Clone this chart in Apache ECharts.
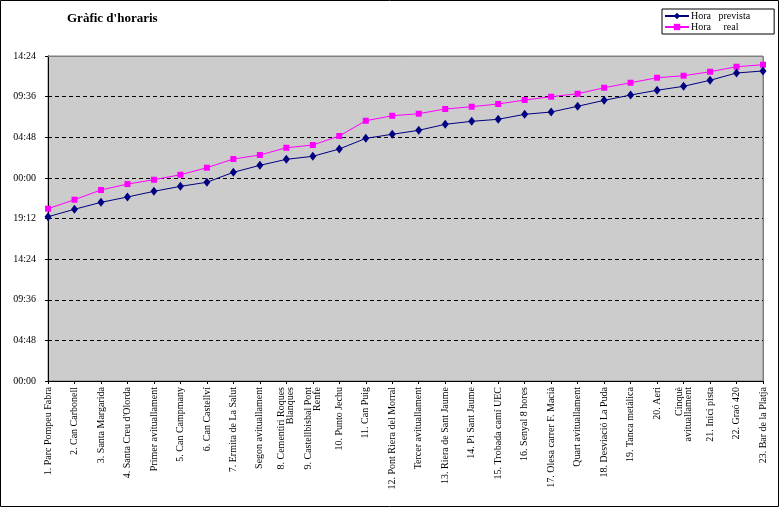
<!DOCTYPE html>
<html>
<head>
<meta charset="utf-8">
<script src="https://cdn.jsdelivr.net/npm/echarts@6/dist/echarts.min.js"></script>
<style>
html,body{margin:0;padding:0;background:#fff;}
#c{width:780px;height:508px;}
</style>
</head>
<body>
<div id="c"></div>
<script>
// Categories (checkpoints)
var categories = [
  "1. Parc Pompeu Fabra",
  "2. Can Carbonell",
  "3. Santa Margarida",
  "4. Santa Creu d'Olorda",
  "Primer avituallament",
  "5. Can Campmany",
  "6. Can Castellví",
  "7. Ermita de La Salut",
  "Segon avituallament",
  "8. Cementiri Roques\nBlanques",
  "9. Castellbisbal Pont\nRenfe",
  "10. Punto Jechu",
  "11. Can Puig",
  "12. Pont Riera del Morral",
  "Tercer avituallament",
  "13. Riera de Sant Jaume",
  "14. Pi Sant Jaume",
  "15. Trobada camí UEC",
  "16. Senyal 8 hores",
  "17. Olesa carrer F. Macià",
  "Quart avituallament",
  "18. Desviació La Puda",
  "19. Tanca metàlica",
  "20. Aeri",
  "Cinquè\navituallament",
  "21. Inici pista",
  "22. Graó 420",
  "23. Bar de la Platja"
];

// Elapsed clock time in hours (values above 24 are the next day)
var horaPrevista = [19.41, 20.29, 21.11, 21.74, 22.41, 23.00, 23.48, 24.66, 25.48, 26.19,
  26.55, 27.41, 28.67, 29.15, 29.62, 30.33, 30.68, 30.92, 31.51, 31.78,
  32.46, 33.16, 33.79, 34.35, 34.82, 35.53, 36.39, 36.63];
var horaReal = [20.36, 21.42, 22.57, 23.27, 23.78, 24.37, 25.20, 26.23, 26.70, 27.56,
  27.88, 28.95, 30.75, 31.34, 31.58, 32.14, 32.41, 32.73, 33.20, 33.59,
  33.94, 34.65, 35.24, 35.83, 36.07, 36.54, 37.13, 37.37];

var seriesNames = ["Hora   prevista", "Hora     real"];
var titleText = "Gràfic d'horaris";
var yMin = 0, yMax = 38.4, yStep = 4.8;

function fmtTime(v) {
  var m = Math.round(v * 60) % 1440;
  var h = Math.floor(m / 60), mm = m % 60;
  return (h < 10 ? '0' : '') + h + ':' + (mm < 10 ? '0' : '') + mm;
}

var FONT = '"Liberation Serif", "DejaVu Serif", serif';
var G = {left: 48, top: 56, right: 17, bottom: 127};

var chart = echarts.init(document.getElementById('c'), null, {renderer: 'canvas'});
chart.setOption({
  animation: false,
  backgroundColor: '#ffffff',
  title: {
    text: titleText,
    left: 67, top: 12, padding: 0,
    textStyle: {fontFamily: FONT, fontSize: 13, fontWeight: 'bold', color: '#000'}
  },
  legend: {
    orient: 'vertical',
    left: 662, top: 9,
    padding: [2, 24, 2, 2],
    itemGap: 1,
    itemWidth: 24, itemHeight: 8,
    borderColor: '#000', borderWidth: 1,
    backgroundColor: '#fff',
    textStyle: {fontFamily: FONT, fontSize: 10, color: '#000', lineHeight: 10, padding: [0,0,0,-3]},
    data: seriesNames
  },
  grid: {
    left: G.left, top: G.top, right: G.right, bottom: G.bottom,
    show: true, backgroundColor: '#CCCCCC', borderColor: '#808080', borderWidth: 1
  },
  xAxis: {
    type: 'category',
    data: categories,
    boundaryGap: false,
    axisLine: {lineStyle: {color: '#000', width: 1}},
    axisTick: {show: true, length: 3, lineStyle: {color: '#000'}, interval: 0},
    axisLabel: {
      interval: 0, rotate: 90, margin: 6,
      fontFamily: FONT, fontSize: 10, color: '#000', lineHeight: 9
    },
    splitLine: {show: false}
  },
  yAxis: {
    type: 'value',
    min: yMin, max: yMax, interval: yStep,
    axisLine: {show: true, lineStyle: {color: '#000', width: 1}},
    axisTick: {show: true, length: 3, lineStyle: {color: '#000'}},
    axisLabel: {
      margin: 12, fontFamily: FONT, fontSize: 10, color: '#000',
      formatter: function (v) { return fmtTime(v); }
    },
    splitLine: {show: true, lineStyle: {color: '#000', type: [4, 3], width: 1}}
  },
  series: [
    {
      name: seriesNames[0], type: 'line', data: horaPrevista,
      symbol: 'diamond', symbolSize: [7, 9], showAllSymbol: true,
      lineStyle: {color: '#000080', width: 1},
      itemStyle: {color: '#000080', borderWidth: 0},
      z: 3
    },
    {
      name: seriesNames[1], type: 'line', data: horaReal,
      symbol: 'rect', symbolSize: 6, showAllSymbol: true,
      lineStyle: {color: '#FF00FF', width: 1},
      itemStyle: {color: '#FF00FF', borderWidth: 0},
      z: 2
    }
  ]
});

// Overlay the outer chart border and the plot-area top/right border (gray)
var tl = chart.convertToPixel({gridIndex: 0}, [0, yMax]);
var br = chart.convertToPixel({gridIndex: 0}, [categories.length - 1, yMin]);
chart.setOption({
  graphic: [
    {type: 'rect', silent: true, z: -10,
     shape: {x: 0.5, y: 0.5, width: 778, height: 506},
     style: {fill: null, stroke: '#000', lineWidth: 1}},
    {type: 'polyline', silent: true, z: 1,
     shape: {points: [[tl[0], Math.round(tl[1]) + 0.5], [Math.round(br[0]) + 0.5, Math.round(tl[1]) + 0.5], [Math.round(br[0]) + 0.5, br[1]]]},
     style: {stroke: '#808080', lineWidth: 1, fill: null}}
  ]
});
</script>
</body>
</html>
